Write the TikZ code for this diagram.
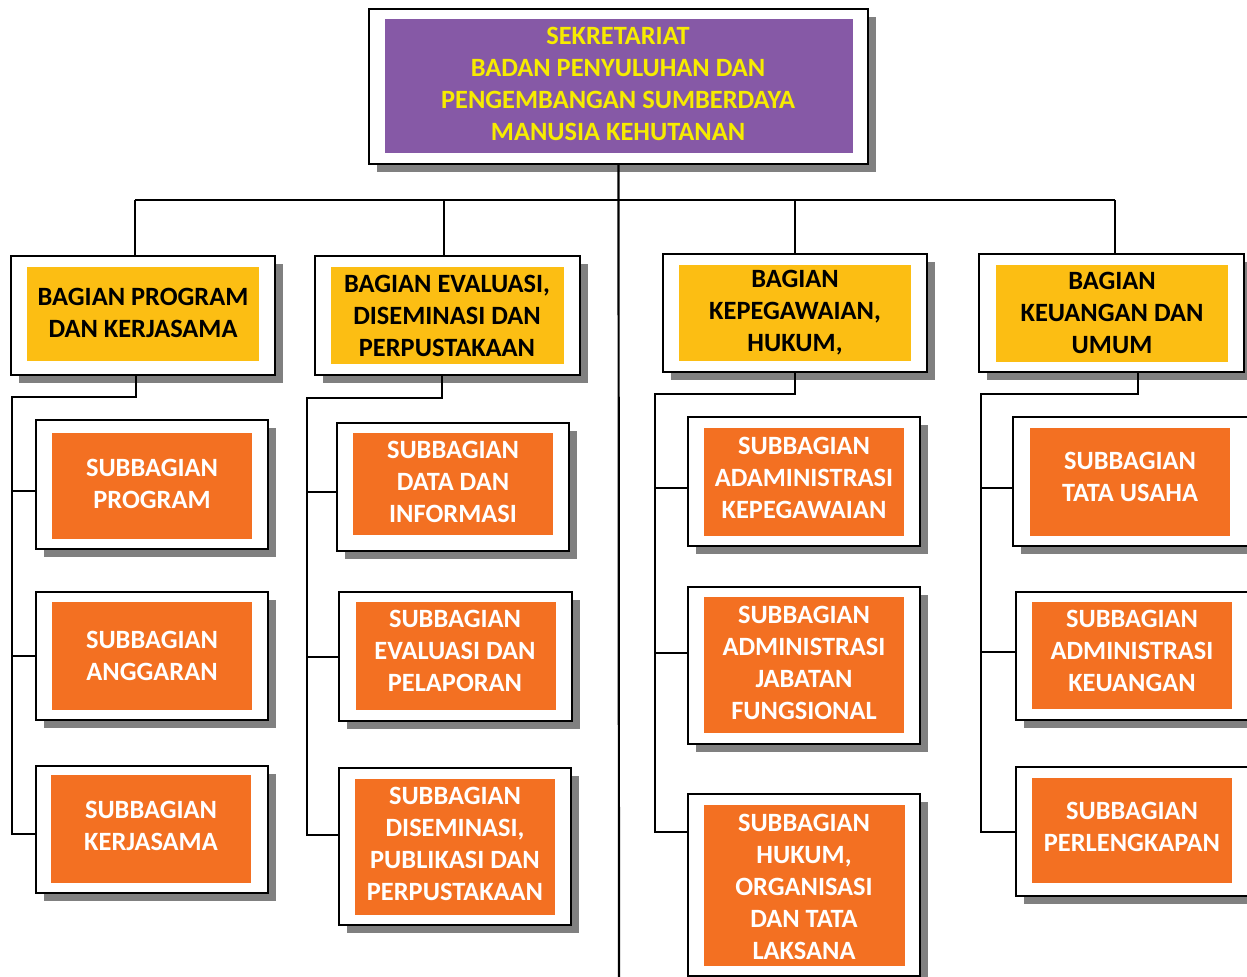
\documentclass[tikz,border=0pt]{standalone}
\usepackage{fontspec}
\setmainfont{Carlito}
\usetikzlibrary{fit,shadows}
\definecolor{purp}{HTML}{8659A6}
\definecolor{ytxt}{HTML}{F7EC00}
\definecolor{gold}{HTML}{FCBE13}
\definecolor{orng}{HTML}{F37022}
\definecolor{shd}{HTML}{808080}
\tikzset{
  frame/.style={draw=black, line width=1.1pt, fill=white, inner sep=0pt,
    drop shadow={shadow xshift=4pt, shadow yshift=-4pt, fill=shd, opacity=1}},
  inbox/.style={inner sep=0pt, draw=none},
  txt/.style={align=center, inner sep=0pt, font=\fontsize{13.2}{16}\selectfont\bfseries},
  conn/.style={draw=black, line width=1.1pt},
}
\begin{document}
\begin{tikzpicture}[x=0.5pt,y=-0.5pt]
\useasboundingbox (0,0) rectangle (1247,977);
\clip (0,0) rectangle (1247,977);
\fill[white] (0,0) rectangle (1247,977);

% top
\node[frame, fit={(369,9) (868,164)}] (topf) {};
\node[inbox, fill=purp, fit={(385,19) (853,153)}] (topi) {};
\node[txt, text=ytxt] (topt) at (618,84) {SEKRETARIAT\\BADAN PENYULUHAN DAN\\PENGEMBANGAN SUMBERDAYA\\MANUSIA KEHUTANAN};

% level 2
\node[frame, fit={(11,256) (275,375)}] (b1f) {};
\node[inbox, fill=gold, fit={(27,267) (259,361)}] (b1i) {};
\node[txt] (b1t) at (143,313) {BAGIAN PROGRAM\\DAN KERJASAMA};

\node[frame, fit={(315,256) (580,375)}] (b2f) {};
\node[inbox, fill=gold, fit={(331,267) (564,364)}] (b2i) {};
\node[txt] (b2t) at (447,316) {BAGIAN EVALUASI,\\DISEMINASI DAN\\PERPUSTAKAAN};

\node[frame, fit={(663,254) (927,372)}] (b3f) {};
\node[inbox, fill=gold, fit={(679,265) (911,361)}] (b3i) {};
\node[txt] (b3t) at (795,313) {BAGIAN\\KEPEGAWAIAN,\\HUKUM,};

\node[frame, fit={(979,254) (1244,372)}] (b4f) {};
\node[inbox, fill=gold, fit={(996,265) (1228,362)}] (b4i) {};
\node[txt] (b4t) at (1112,313) {BAGIAN\\KEUANGAN DAN\\UMUM};

% column 1
\node[frame, fit={(36,420) (268,549)}] (s11f) {};
\node[inbox, fill=orng, fit={(52,433) (252,539)}] (s11i) {};
\node[txt, text=white] (s11t) at (152,484) {SUBBAGIAN\\PROGRAM};

\node[frame, fit={(36,592) (268,720)}] (s12f) {};
\node[inbox, fill=orng, fit={(52,602) (252,710)}] (s12i) {};
\node[txt, text=white] (s12t) at (152,656) {SUBBAGIAN\\ANGGARAN};

\node[frame, fit={(36,766) (268,893)}] (s13f) {};
\node[inbox, fill=orng, fit={(51,775) (251,883)}] (s13i) {};
\node[txt, text=white] (s13t) at (151,826) {SUBBAGIAN\\KERJASAMA};

% column 2
\node[frame, fit={(337,423) (569,551)}] (s21f) {};
\node[inbox, fill=orng, fit={(353,433) (553,535)}] (s21i) {};
\node[txt, text=white] (s21t) at (453,482) {SUBBAGIAN\\DATA DAN\\INFORMASI};

\node[frame, fit={(339,592) (572,721)}] (s22f) {};
\node[inbox, fill=orng, fit={(356,602) (556,710)}] (s22i) {};
\node[txt, text=white] (s22t) at (455,651) {SUBBAGIAN\\EVALUASI DAN\\PELAPORAN};

\node[frame, fit={(339,768) (571,925)}] (s23f) {};
\node[inbox, fill=orng, fit={(355,779) (555,915)}] (s23i) {};
\node[txt, text=white] (s23t) at (455,844) {SUBBAGIAN\\DISEMINASI,\\PUBLIKASI DAN\\PERPUSTAKAAN};

% column 3
\node[frame, fit={(688,417) (920,546)}] (s31f) {};
\node[inbox, fill=orng, fit={(704,428) (904,536)}] (s31i) {};
\node[txt, text=white] (s31t) at (804,478) {SUBBAGIAN\\ADAMINISTRASI\\KEPEGAWAIAN};

\node[frame, fit={(688,587) (920,744)}] (s32f) {};
\node[inbox, fill=orng, fit={(704,597) (904,733)}] (s32i) {};
\node[txt, text=white] (s32t) at (804,663) {SUBBAGIAN\\ADMINISTRASI\\JABATAN\\FUNGSIONAL};

\node[frame, fit={(688,794) (920,976)}] (s33f) {};
\node[inbox, fill=orng, fit={(704,805) (905,966)}] (s33i) {};
\node[txt, text=white] (s33t) at (804,887) {SUBBAGIAN\\HUKUM,\\ORGANISASI\\DAN TATA\\LAKSANA};

% column 4
\node[frame, fit={(1013,417) (1256,546)}] (s41f) {};
\node[inbox, fill=orng, fit={(1030,428) (1230,536)}] (s41i) {};
\node[txt, text=white] (s41t) at (1130,477) {SUBBAGIAN\\TATA USAHA};

\node[frame, fit={(1016,592) (1256,720)}] (s42f) {};
\node[inbox, fill=orng, fit={(1032,602) (1232,709)}] (s42i) {};
\node[txt, text=white] (s42t) at (1132,651) {SUBBAGIAN\\ADMINISTRASI\\KEUANGAN};

\node[frame, fit={(1016,767) (1256,896)}] (s43f) {};
\node[inbox, fill=orng, fit={(1032,778) (1232,883)}] (s43i) {};
\node[txt, text=white] (s43t) at (1132,827) {SUBBAGIAN\\PERLENGKAPAN};

% connectors: top level
\coordinate (bottom) at (619,985);
\coordinate (hL) at (135,200);
\coordinate (hR) at (1115,200);
\coordinate (h2) at (444,200);
\coordinate (h3) at (795,200);
\draw[conn] (topf.south) -- (bottom);
\draw[conn] (hL) -- (hR);
\draw[conn] (hL) -- (hL |- b1f.north);
\draw[conn] (h2) -- (h2 |- b2f.north);
\draw[conn] (h3) -- (h3 |- b3f.north);
\draw[conn] (hR) -- (hR |- b4f.north);

% column 1 connectors
\coordinate (c1a) at (136,397);
\coordinate (c1b) at (12,397);
\coordinate (c1c) at (12,834);
\draw[conn] (c1a |- b1f.south) -- (c1a) -- (c1b) -- (c1c) -- (c1c -| s13f.west);
\draw[conn] (12,491) -- (12,491 -| s11f.west);
\draw[conn] (12,656) -- (12,656 -| s12f.west);

% column 2 connectors
\coordinate (c2a) at (442,398);
\coordinate (c2b) at (307,398);
\coordinate (c2c) at (307,835);
\draw[conn] (c2a |- b2f.south) -- (c2a) -- (c2b) -- (c2c) -- (c2c -| s23f.west);
\draw[conn] (307,492) -- (307,492 -| s21f.west);
\draw[conn] (307,657) -- (307,657 -| s22f.west);

% column 3 connectors
\coordinate (c3a) at (795,394);
\coordinate (c3b) at (655,394);
\coordinate (c3c) at (655,832);
\draw[conn] (c3a |- b3f.south) -- (c3a) -- (c3b) -- (c3c) -- (c3c -| s33f.west);
\draw[conn] (655,488) -- (655,488 -| s31f.west);
\draw[conn] (655,653) -- (655,653 -| s32f.west);

% column 4 connectors
\coordinate (c4a) at (1138,394);
\coordinate (c4b) at (981,394);
\coordinate (c4c) at (981,832);
\draw[conn] (c4a |- b4f.south) -- (c4a) -- (c4b) -- (c4c) -- (c4c -| s43f.west);
\draw[conn] (981,488) -- (981,488 -| s41f.west);
\draw[conn] (981,652) -- (981,652 -| s42f.west);
\end{tikzpicture}
\end{document}
